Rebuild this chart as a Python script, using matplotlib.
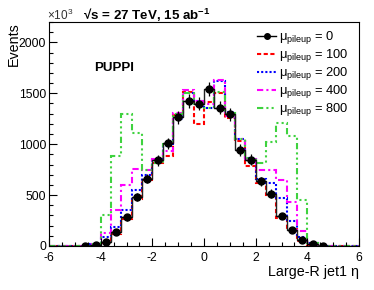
import numpy as np
import matplotlib
matplotlib.use("Agg")
import matplotlib.pyplot as plt
from matplotlib.lines import Line2D
from matplotlib.ticker import MultipleLocator

plt.rcParams['font.family'] = ['Liberation Sans', 'DejaVu Sans']
plt.rcParams['mathtext.fontset'] = 'custom'
plt.rcParams['mathtext.rm'] = 'Liberation Sans'
plt.rcParams['mathtext.it'] = 'Liberation Sans:italic'
plt.rcParams['mathtext.bf'] = 'Liberation Sans:bold'
plt.rcParams['axes.unicode_minus'] = False

# ---- data (events in units of 10^3), 0.4-wide bins from -6 to 6 ----
bin_edges = np.linspace(-6.0, 6.0, 31)
zeros3 = [0, 0, 0]
mu0 = zeros3 + [3, 12, 38, 136, 280, 478, 662, 840, 1008, 1265, 1423, 1398,
                1543, 1358, 1295, 943, 849, 636, 515, 298, 157, 56, 15, 3] + zeros3
mu0_err = zeros3 + [3, 6, 11, 21, 30, 39, 46, 52, 57, 64, 68, 67,
                    71, 66, 65, 55, 52, 45, 41, 31, 23, 13, 7, 3] + zeros3
mu100 = zeros3 + [2, 8, 32, 122, 265, 460, 650, 816, 884, 1290, 1508, 1200,
                  1410, 1505, 1255, 1031, 790, 615, 500, 272, 165, 45, 14, 2] + zeros3
mu200 = zeros3 + [3, 15, 85, 190, 354, 548, 700, 845, 985, 1250, 1505, 1425,
                  1351, 1625, 1315, 1047, 860, 660, 618, 469, 243, 85, 25, 3] + zeros3
mu400 = zeros3 + [3, 18, 130, 358, 595, 752, 745, 851, 932, 1311, 1536, 1420,
                  1390, 1632, 1278, 1052, 856, 745, 745, 650, 430, 150, 25, 3] + zeros3
mu800 = zeros3 + [3, 20, 305, 880, 1300, 1110, 742, 820, 1000, 1295, 1505, 1378,
                  1360, 1510, 1310, 1047, 866, 816, 1018, 1205, 1078, 452, 25, 3] + zeros3

labels = ['0', '100', '200', '400', '800']
colors = ['black', '#ff0000', '#0000ff', '#ff00ff', '#3fd23f']
styles = ['-', (0, (2.0, 1.2)), (0, (1.0, 1.0)), (0, (3, 1.5, 1, 1.5)),
          (0, (3, 1.5, 1, 1.5, 1, 1.5, 1, 1.5))]

fig = plt.figure(figsize=(3.74, 2.90), dpi=100)
ax = fig.add_axes([49/374, 44/290, 310/374, 224/290])

centers = 0.5 * (bin_edges[:-1] + bin_edges[1:])
halfw = 0.5 * np.diff(bin_edges)

series = [mu100, mu200, mu400, mu800]
for vals, col, ls in zip(series, colors[1:], styles[1:]):
    ax.stairs(vals, bin_edges, color=col, linestyle=ls, linewidth=1.5)

ax.stairs(mu0, bin_edges, color='#222222', linewidth=1.0)
m0 = np.array(mu0)
mask = m0 > 0
ax.errorbar(centers[mask], m0[mask], yerr=np.array(mu0_err)[mask], xerr=halfw[mask],
            fmt='o', color='black', markersize=5, elinewidth=0.9, capsize=0, zorder=5)

ax.set_xlim(-6, 6)
ax.set_ylim(0, 2200)
ax.xaxis.set_major_locator(MultipleLocator(2))
ax.xaxis.set_minor_locator(MultipleLocator(0.5))
ax.yaxis.set_major_locator(MultipleLocator(500))
ax.yaxis.set_minor_locator(MultipleLocator(100))
ax.tick_params(which='both', direction='in', top=False, right=False, labelsize=8.7)
ax.tick_params(which='major', length=6, width=0.8)
ax.tick_params(which='minor', length=3, width=0.8)
ax.tick_params(axis='x', pad=4)
ax.tick_params(axis='y', pad=2)
for sp in ax.spines.values():
    sp.set_linewidth(0.8)

ax.set_xlabel('Large-R jet1 η', fontsize=10.3, loc='right', labelpad=1)
fig.text(14/374, 1 - 22/290, 'Events', rotation=90, fontsize=10.3, ha='center', va='top')

fig.text(47/374, 1 - 15/290, '×10$^{3}$', fontsize=8.5, color='#333333', va='center', ha='left')
fig.text(83/374, 1 - 15/290, '√s = 27 TeV, 15 ab$^{\\mathbf{-1}}$', fontsize=9.6,
         fontweight='bold', va='center', ha='left')
ax.text(0.145, 0.795, 'PUPPI', transform=ax.transAxes, fontsize=9.6, fontweight='bold',
        va='center', ha='left')

handles = []
for lab, col, ls in zip(labels, colors, styles):
    if lab == '0':
        h = Line2D([], [], color=col, linestyle='-', linewidth=1.0, marker='o', markersize=4)
    else:
        h = Line2D([], [], color=col, linestyle=ls, linewidth=1.5)
    handles.append(h)
leg_labels = ['μ$_{\\mathrm{pileup}}$ = ' + l for l in labels]
ax.legend(handles, leg_labels, loc='upper right', bbox_to_anchor=(0.995, 1.008),
          frameon=False, fontsize=9.3, handlelength=1.45, handletextpad=0.2,
          labelspacing=0.08, borderpad=0.2)

fig.savefig('out.png', dpi=100)
